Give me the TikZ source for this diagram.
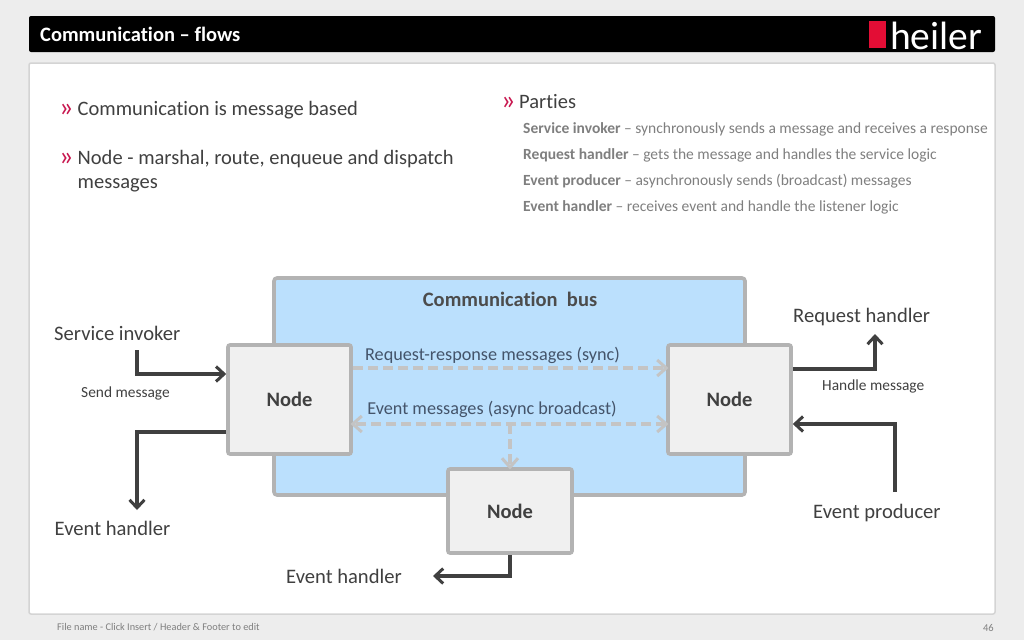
\documentclass[tikz,border=0pt]{standalone}
\usepackage{fontspec}
\setmainfont[Ligatures=NoCommon]{Carlito}
\usetikzlibrary{arrows.meta,calc}
\definecolor{pagebg}{HTML}{EDEDED}
\definecolor{cardline}{HTML}{D4D4D4}
\definecolor{txt}{HTML}{404040}
\definecolor{subtxt}{HTML}{7F7F7F}
\definecolor{bull}{HTML}{C8174F}
\definecolor{busfill}{HTML}{BBE0FD}
\definecolor{boxline}{HTML}{B3B3B3}
\definecolor{nodefill}{HTML}{F0F0F0}
\definecolor{dashc}{HTML}{C4C4C4}
\definecolor{logored}{HTML}{E30D35}
\definecolor{msgtxt}{HTML}{44546A}
\tikzset{
  x=1pt,y=-1pt,
  nodebox/.style={draw=boxline,line width=3.6pt,fill=nodefill,rounded corners=2pt,inner sep=0pt,font=\fontsize{20.5}{20.5}\selectfont\bfseries,text=txt},
  lab/.style={inner sep=0pt,text=txt,font=\fontsize{20.6}{20.6}\selectfont},
  small/.style={inner sep=0pt,text=txt,font=\fontsize{15.4}{15.4}\selectfont},
  head/.style={anchor=west,inner sep=0pt,text=txt,font=\fontsize{20.5}{20.5}\selectfont},
  sub/.style={anchor=west,inner sep=0pt,text=subtxt,font=\fontsize{15.5}{15.5}\selectfont},
  bullet/.style={anchor=west,inner sep=0pt,text=bull,font=\fontsize{28}{28}\selectfont},
  flow/.style={draw=black!75,line width=3.4pt,-{Straight Barb[length=8pt,width=15pt,line width=3pt]}},
  dashflow/.style={draw=dashc,line width=3.4pt,dash pattern=on 10pt off 5pt},
  dashtip/.style={draw=dashc,line width=3pt},
}
\begin{document}
\begin{tikzpicture}
\useasboundingbox (0,0) rectangle (1024,640);
\fill[pagebg] (0,0) rectangle (1024,640);
% header
\fill[black,rounded corners=2pt] (29,16) rectangle (995,52);
\node[anchor=west,inner sep=0pt,text=white,font=\fontsize{20.5}{20.5}\selectfont\bfseries] (title) at (40,34.5) {Communication – flows};
\fill[logored] (869,21) rectangle (886,48);
\node[anchor=west,inner sep=0pt,text=white,font=\fontsize{39.5}{39.5}\selectfont] (logo) at (890,35.5) {heiler};
% card
\draw[cardline,line width=1.5pt,fill=white,rounded corners=2pt] (29,63) rectangle (995,614);
% text left
\node[bullet] (b1) at (59,110) {»};
\node[head] (t1) at (77.5,110.5) {Communication is message based};
\node[bullet] (b2) at (59,159) {»};
\node[head] (t2) at (77.5,159) {Node - marshal, route, enqueue and dispatch};
\node[head] (t3) at (77.5,185) {messages};
% text right
\node[bullet] (b3) at (501,103) {»};
\node[head] (p0) at (519,102) {Parties};
\node[sub] (p1) at (523,129) {\textbf{Service invoker} – synchronously sends a message and receives a response};
\node[sub] (p2) at (523,155) {\textbf{Request handler} – gets the message and handles the service logic};
\node[sub] (p3) at (523,181) {\textbf{Event producer} – asynchronously sends (broadcast) messages};
\node[sub] (p4) at (523,207) {\textbf{Event handler} – receives event and handle the listener logic};
% bus
\node[draw=boxline,line width=3.6pt,fill=busfill,rounded corners=3pt,minimum width=471pt,minimum height=217pt,inner sep=0pt] (bus) at (509.5,386.5) {};
\node[inner sep=0pt,text=black!70,font=\fontsize{20.5}{20.5}\selectfont\bfseries] (bustitle) at (510,299) {Communication\ \ bus};
% nodes
\node[nodebox,minimum width=123pt,minimum height=109pt] (nl) at (289.5,399.5) {Node};
\node[nodebox,minimum width=123pt,minimum height=109pt] (nr) at (729.5,399.5) {Node};
\node[nodebox,minimum width=124pt,minimum height=84pt] (nb) at (510,511) {Node};
% dashed
\node[inner sep=0pt,text=msgtxt,font=\fontsize{18.2}{18.2}\selectfont] (m1) at (492.5,355) {Request-response messages (sync)};
\node[inner sep=0pt,text=msgtxt,font=\fontsize{18.2}{18.2}\selectfont] (m2) at (492,409) {Event messages (async broadcast)};
\coordinate (e1l) at (nl.east |- 0,368);
\coordinate (e1r) at (nr.west |- 0,368);
\coordinate (e2l) at (nl.east |- 0,424);
\coordinate (e2r) at (nr.west |- 0,424);
\coordinate (e2m) at (nb.north |- 0,424);
\draw[dashflow] (e1l) -- (e1r);
\draw[dashtip] ($(e1r)+(-9,-8)$) -- (e1r) -- ($(e1r)+(-9,8)$);
\draw[dashflow] (e2r) -- (e2l);
\draw[dashtip] ($(e2r)+(-9,-8)$) -- (e2r) -- ($(e2r)+(-9,8)$);
\draw[dashtip] ($(e2l)+(9,-8)$) -- (e2l) -- ($(e2l)+(9,8)$);
\draw[dashflow] (e2m) -- (nb.north);
\draw[dashtip] ($(nb.north)+(-8,-9)$) -- (nb.north) -- ($(nb.north)+(8,-9)$);
% outer labels
\node[lab,anchor=west] (si) at (54,333) {Service invoker};
\node[small,anchor=west] (sm) at (81,393.5) {Send message};
\node[lab,anchor=west] (ehl) at (54.5,528) {Event handler};
\node[lab,anchor=west] (rh) at (793,317) {Request handler};
\node[small,anchor=west] (hm) at (822,386) {Handle message};
\node[lab,anchor=west] (ep) at (813,512.5) {Event producer};
\node[lab,anchor=west] (ehb) at (286,576) {Event handler};
% flows
\coordinate (a1s) at (137,350);
\coordinate (a1e) at (nl.west |- 0,374);
\draw[flow] (a1s) |- (a1e);
\coordinate (a2s) at (nl.west |- 0,432);
\coordinate (a2e) at (137,510);
\draw[flow] (a2s) -| (a2e);
\coordinate (a3s) at (nr.east |- 0,369);
\coordinate (a3e) at (875,334);
\draw[flow] (a3s) -| (a3e);
\coordinate (a4s) at (895,492);
\coordinate (a4e) at (nr.east |- 0,424);
\draw[flow] (a4s) |- (a4e);
\coordinate (a5e) at (433,576);
\draw[flow] (nb.south) |- (a5e);
% footer
\node[anchor=west,inner sep=0pt,text=subtxt,font=\fontsize{10.3}{10.3}\selectfont] (fn) at (57,627) {File name - Click Insert / Header \& Footer to edit};
\node[anchor=east,inner sep=0pt,text=subtxt,font=\fontsize{10.5}{10.5}\selectfont] (pg) at (994,628) {46};
\end{tikzpicture}
\end{document}
